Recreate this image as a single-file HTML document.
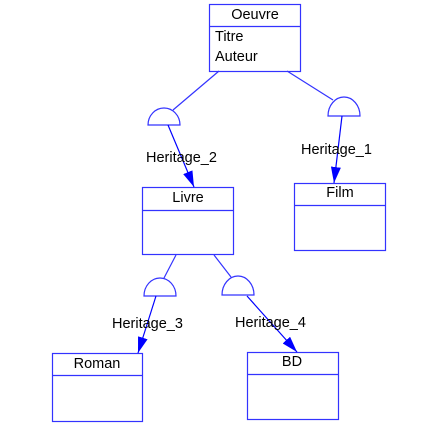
<!DOCTYPE html>
<html><head><meta charset="utf-8"><style>
html,body{margin:0;padding:0;background:#fff;width:424px;height:430px;overflow:hidden}
svg text{font-family:"Liberation Sans",Arial,sans-serif;font-size:14.5px;fill:#000}
</style></head><body>
<svg width="424" height="430" viewBox="0 0 424 430" xmlns="http://www.w3.org/2000/svg">
<defs><marker id="a" markerWidth="16" markerHeight="10" refX="10" refY="5" orient="auto" markerUnits="userSpaceOnUse" viewBox="0 0 10 10" preserveAspectRatio="none"><path d="M0,0 L10,5 L0,10 z" fill="#00f"/></marker></defs>
<g fill="none" stroke="#33f" stroke-width="1.2">
<rect x="209.5" y="4.5" width="91" height="67"/><line x1="209" y1="26.5" x2="301" y2="26.5"/>
<rect x="142.5" y="187.5" width="91" height="67"/><line x1="142" y1="210.5" x2="234" y2="210.5"/>
<rect x="294.5" y="183.5" width="91" height="67"/><line x1="294" y1="205.5" x2="386" y2="205.5"/>
<rect x="52.5" y="353.5" width="90" height="68"/><line x1="52" y1="375.5" x2="143" y2="375.5"/>
<rect x="247.5" y="352.5" width="91" height="67"/><line x1="247" y1="374.5" x2="339" y2="374.5"/>
<path d="M148,125 A16,17 0 0 1 180,125 Z"/>
<path d="M328,116 A16,19 0 0 1 360,116 Z"/>
<path d="M144,296 A16,18 0 0 1 176,296 Z"/>
<path d="M222,295 A16,19 0 0 1 254,295 Z"/>
<line x1="219" y1="71" x2="173" y2="110"/>
<line x1="287" y1="71" x2="333" y2="100"/>
<line x1="176" y1="255" x2="164" y2="278"/>
<line x1="214" y1="255" x2="231" y2="277"/>
</g>
<g stroke="#00f" stroke-width="1.2" fill="none">
<line x1="168" y1="125" x2="194" y2="187" marker-end="url(#a)"/>
<line x1="342" y1="116" x2="334" y2="183" marker-end="url(#a)"/>
<line x1="156" y1="296" x2="138" y2="353" marker-end="url(#a)"/>
<line x1="247" y1="296" x2="297" y2="352" marker-end="url(#a)"/>
</g>
<text x="255" y="19" text-anchor="middle">Oeuvre</text>
<text x="215" y="41">Titre</text>
<text x="215" y="61">Auteur</text>
<text x="188" y="202" text-anchor="middle">Livre</text>
<text x="340" y="197" text-anchor="middle">Film</text>
<text x="97" y="368" text-anchor="middle">Roman</text>
<text x="292" y="366" text-anchor="middle">BD</text>
<text x="146" y="162">Heritage_2</text>
<text x="301" y="154">Heritage_1</text>
<text x="112" y="328">Heritage_3</text>
<text x="235" y="327">Heritage_4</text>
</svg>
</body></html>
